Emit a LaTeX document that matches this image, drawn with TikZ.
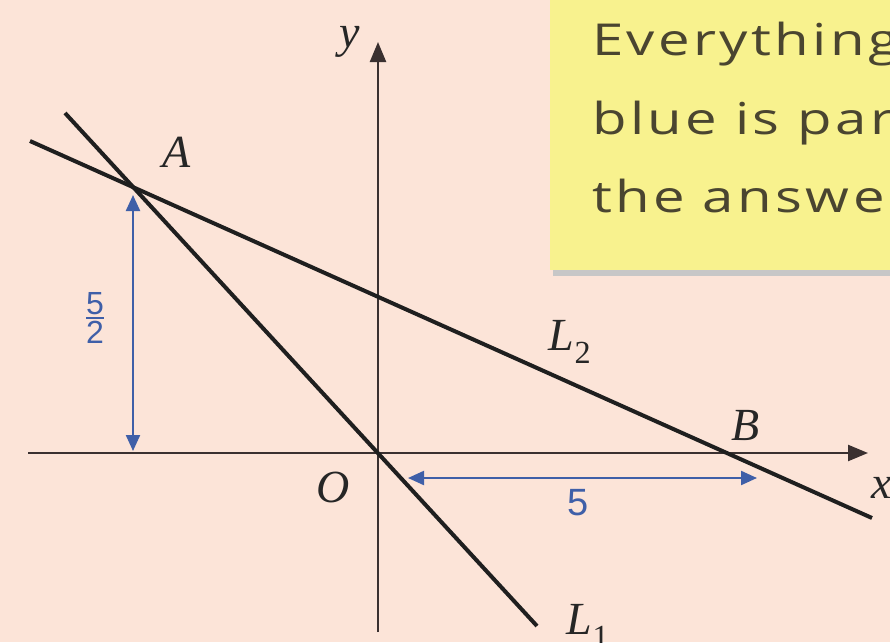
\documentclass[tikz,border=0pt]{standalone}
\usepackage{fontspec}
\usepackage{graphicx}
\setmainfont{Liberation Serif}
\newfontfamily\notefont[LetterSpace=6]{Open Sans}
\newfontfamily\bluefont{Liberation Sans}
\usetikzlibrary{arrows.meta}
\definecolor{bgpeach}{HTML}{FCE4D8}
\definecolor{noteyellow}{HTML}{F8F28E}
\definecolor{dimblue}{HTML}{3F5FA8}
\definecolor{inkgray}{HTML}{3A3030}
\definecolor{notetext}{HTML}{4A4530}
\tikzset{
  axisline/.style={draw=inkgray, line width=2.3pt, -{Triangle[length=20pt,width=16pt]}},
  graphline/.style={draw=black!88, line width=4pt},
  dimarrow/.style={draw=dimblue, line width=2.2pt, {Triangle[length=16pt,width=14pt]}-{Triangle[length=16pt,width=14pt]}},
  lbl/.style={font=\fontsize{46}{50}\selectfont\itshape, text=black!85, inner sep=0pt},
  dimlbl/.style={font=\fontsize{38}{40}\selectfont\bluefont, text=dimblue, inner sep=0pt},
  notetxt/.style={font=\fontsize{44}{50}\selectfont\notefont, text=notetext, inner sep=0pt, anchor=base west}
}
\newcommand{\notestretch}[1]{\scalebox{1.28}[1]{#1}}
\begin{document}
\begin{tikzpicture}[x=1pt,y=-1pt]
\useasboundingbox (0,0) rectangle (890,642);
\fill[bgpeach] (0,0) rectangle (890,642);
% sticky note
\fill[black!22] (553,264) rectangle (895,276);
\fill[noteyellow] (550,-5) rectangle (895,270);
\node[notetxt] (n1) at (592,56) {\notestretch{Everything in}};
\node[notetxt] (n2) at (592,134) {\notestretch{blue is part of}};
\node[notetxt] (n3) at (592,212) {\notestretch{the answer}};
% coordinates
\coordinate (O) at (378,453);
\coordinate (A) at (137,192);
\coordinate (B) at (738,453);
\coordinate (xs) at (28,453);
\coordinate (xe) at (868,453);
\coordinate (ys) at (378,632);
\coordinate (ye) at (378,42);
\coordinate (l1s) at (65,113);
\coordinate (l1e) at (537,626);
\coordinate (l2s) at (30,141);
\coordinate (l2e) at (872,518);
\coordinate (va) at (133,195);
\coordinate (vb) at (133,451);
\coordinate (ha) at (408,478);
\coordinate (hb) at (757,478);
% axes
\draw[axisline] (xs) -- (xe);
\draw[axisline] (ys) -- (ye);
% lines
\draw[graphline] (l1s) -- (l1e);
\draw[graphline] (l2s) -- (l2e);
% dimension arrows
\draw[dimarrow] (va) -- (vb);
\draw[dimarrow] (ha) -- (hb);
% labels
\node[lbl] (ylab) at (350,42) {y};
\node[lbl] (Alab) at (177,152) {A};
\node[lbl] (L2lab) at (570,342) {L\textsubscript{\upshape 2}};
\node[lbl] (Blab) at (746,425) {B};
\node[lbl] (Olab) at (333,487) {O};
\node[lbl] (xlab) at (882,488) {x};
\node[lbl] (L1lab) at (588,626) {L\textsubscript{\upshape 1}};
\node[dimlbl] (five) at (578,503) {5};
\node[dimlbl, font=\fontsize{32}{26}\selectfont\bluefont] (half) at (95,318) {\shortstack{5\\[-1pt]\rule{18pt}{2.2pt}\\[-1pt]2}};
\end{tikzpicture}
\end{document}
